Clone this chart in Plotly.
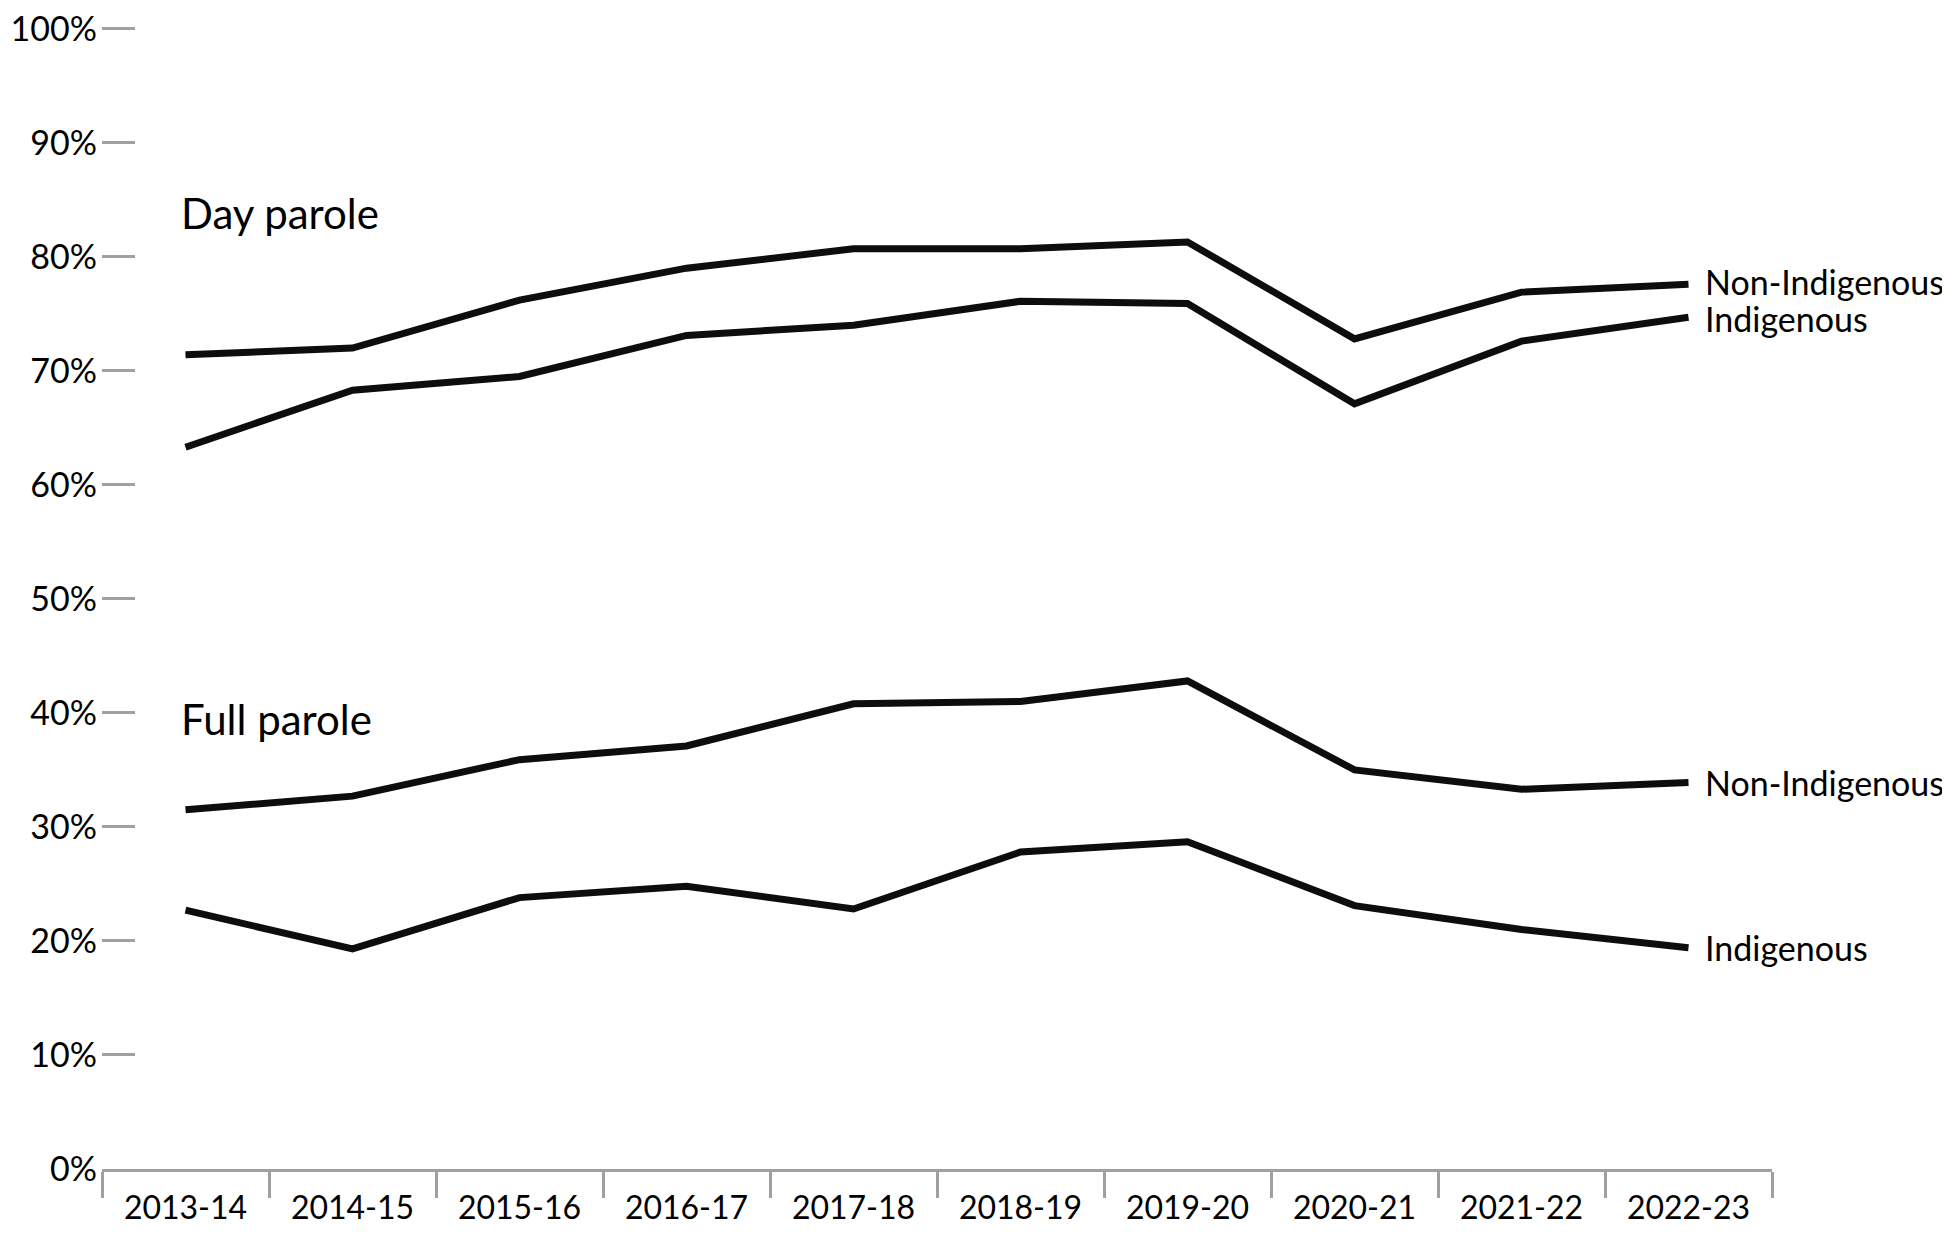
import plotly.graph_objects as go

# Fiscal years on the x axis
years = ["2013-14", "2014-15", "2015-16", "2016-17", "2017-18",
         "2018-19", "2019-20", "2020-21", "2021-22", "2022-23"]

# Grant rates (%)
day_non_indigenous = [71.4, 72.0, 76.2, 79.0, 80.7, 80.7, 81.3, 72.8, 76.9, 77.6]
day_indigenous = [63.3, 68.3, 69.5, 73.1, 74.0, 76.1, 75.9, 67.1, 72.6, 74.7]
full_non_indigenous = [31.5, 32.7, 35.9, 37.1, 40.8, 41.0, 42.8, 35.0, 33.3, 33.9]
full_indigenous = [22.7, 19.3, 23.8, 24.8, 22.8, 27.8, 28.7, 23.1, 21.0, 19.4]

y_ticks = [0, 10, 20, 30, 40, 50, 60, 70, 80, 90, 100]

FONT = "Lato, Arial, sans-serif"
AXIS_GREY = "#A0A0A0"

# (label, values, small vertical nudge for the end label)
series = [
    ("Non-Indigenous", day_non_indigenous, 3),
    ("Indigenous", day_indigenous, -1),
    ("Non-Indigenous", full_non_indigenous, 0),
    ("Indigenous", full_indigenous, 0),
]

fig = go.Figure()

for name, values, nudge in series:
    fig.add_trace(go.Scatter(
        x=years,
        y=values,
        mode="lines",
        name=name,
        line=dict(color="#0D0D0D", width=7),
        showlegend=False,
        hovertemplate="%{x}: %{y:.1f}%<extra>" + name + "</extra>",
    ))
    # end-of-line label
    fig.add_annotation(
        x=years[-1], y=values[-1], xref="x", yref="y",
        text=name, showarrow=False, xanchor="left", yanchor="middle",
        xshift=14, yshift=nudge,
        font=dict(size=34, color="#000000", family=FONT),
    )

# panel titles
for label, yval in [("Day parole", 83.8), ("Full parole", 39.5)]:
    fig.add_annotation(
        x=0.046, y=yval, xref="paper", yref="y",
        text=label, showarrow=False, xanchor="left", yanchor="middle",
        font=dict(size=42, color="#000000", family=FONT),
    )

# the page body adds an 8px margin, so the figure is sized to fit inside it
fig.update_layout(
    width=1942,
    height=1226,
    template="plotly_white",
    plot_bgcolor="white",
    paper_bgcolor="white",
    font=dict(family=FONT, size=32, color="#000000"),
    margin=dict(l=94, r=178, t=19, b=65),
    xaxis=dict(
        type="category",
        range=[-0.5, 9.5],
        automargin=False,
        showgrid=False,
        showline=True,
        linecolor=AXIS_GREY,
        linewidth=3,
        ticks="outside",
        tickson="boundaries",
        ticklen=26,
        tickwidth=3,
        tickcolor=AXIS_GREY,
        ticklabelstandoff=9,
        tickfont=dict(size=32, family=FONT, color="#000000"),
        zeroline=False,
    ),
    yaxis=dict(
        range=[0, 100.15],
        automargin=False,
        tickvals=y_ticks,
        ticktext=[f"{v}%" for v in y_ticks],
        ticklabeloverflow="allow",
        showgrid=False,
        showline=False,
        zeroline=False,
        ticks="inside",
        ticklen=33,
        tickwidth=3,
        tickcolor=AXIS_GREY,
        ticklabelstandoff=4,
        tickfont=dict(size=34, family=FONT, color="#000000"),
    ),
)

fig.write_html("out.html")
